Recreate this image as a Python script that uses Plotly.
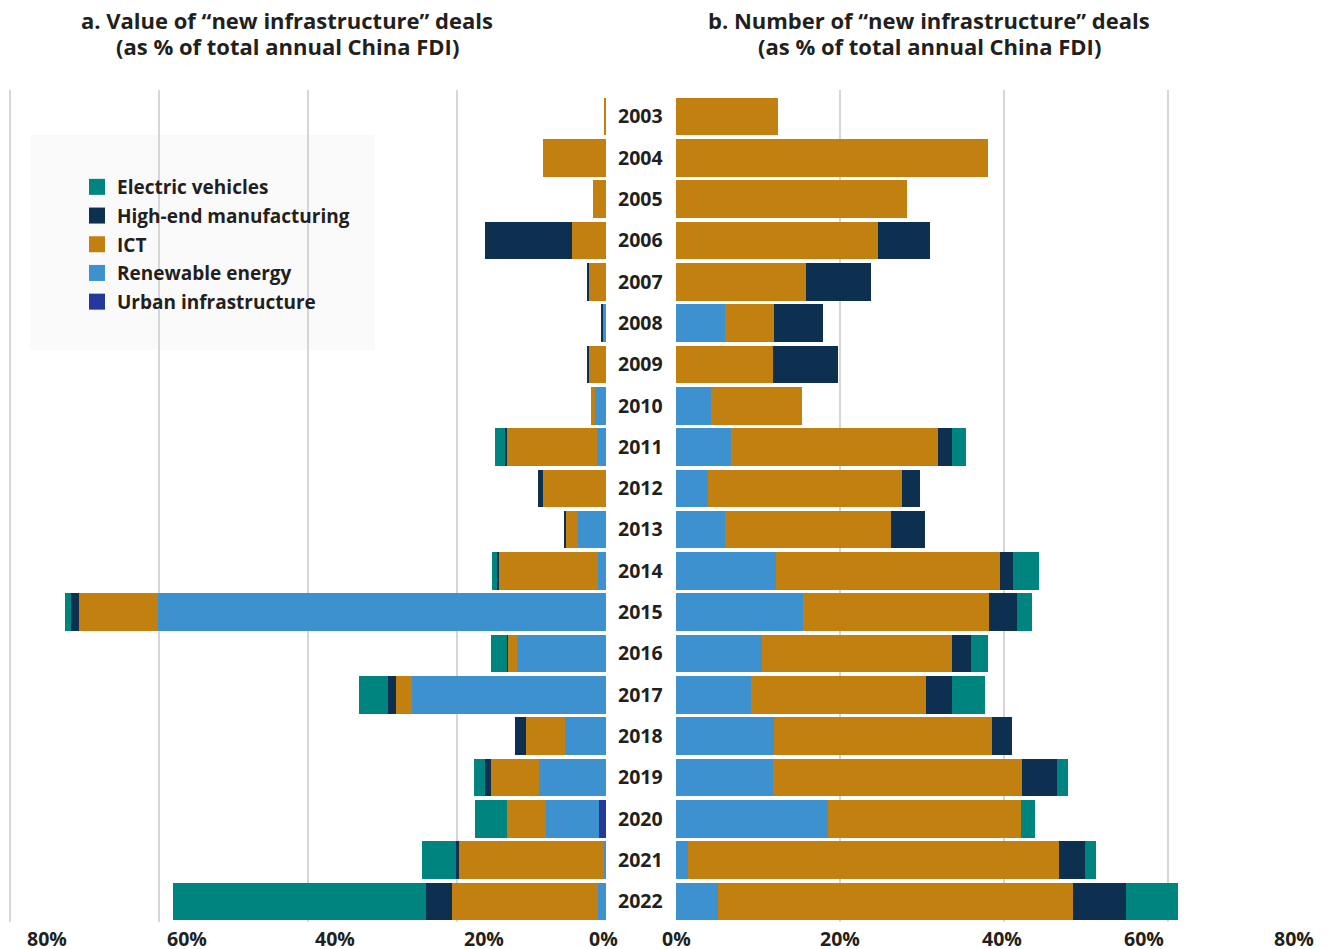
import plotly.graph_objects as go

W, H = 1335, 949
OFF = 8  # page body margin around the plot div

YEARS = [str(y) for y in range(2003, 2023)]
CATEGORIES = ["Urban infrastructure", "Renewable energy", "ICT",
              "High-end manufacturing", "Electric vehicles"]
COLORS = {
    "Electric vehicles": "#00847f",
    "High-end manufacturing": "#0d3050",
    "ICT": "#c18010",
    "Renewable energy": "#3d91cf",
    "Urban infrastructure": "#24399a",
}

# a. value of deals, % of total annual China FDI
VALUE_URBAN = [0, 0, 0, 0, 0, 0, 0, 0, 0, 0, 0, 0, 0, 0, 0, 0, 0, 0.9, 0, 0]
VALUE_RENEW = [0, 0, 0, 0, 0, 0.5, 0, 1.5, 1.2, 0, 3.8, 1.1, 60.1, 11.9,
               26.1, 5.5, 9.0, 7.1, 0.3, 1.1]
VALUE_ICT = [0.3, 8.5, 1.7, 4.5, 2.3, 0, 2.3, 0.5, 12.2, 8.4, 1.7, 13.3, 10.6,
             1.3, 2.1, 5.2, 6.4, 5.3, 19.4, 19.6]
VALUE_HIGHEND = [0, 0, 0, 11.8, 0.3, 0.15, 0.15, 0, 0.15, 0.7, 0.15, 0.27,
                 1.2, 0.15, 1.1, 1.5, 0.8, 0, 0.5, 3.5]
VALUE_EV = [0, 0, 0, 0, 0, 0, 0, 0, 1.3, 0, 0, 0.67, 0.7, 2.1, 3.9, 0, 1.5,
            4.3, 4.5, 34.0]

# b. number of deals, % of total annual China FDI
COUNT_URBAN = [0] * 20
COUNT_RENEW = [0, 0, 0, 0, 0, 6.0, 0, 4.3, 6.7, 3.9, 6.0, 12.2, 15.5, 10.5,
               9.1, 12.0, 11.8, 18.5, 1.5, 5.1]
COUNT_ICT = [12.4, 38.0, 28.2, 24.6, 15.8, 5.9, 11.8, 11.1, 25.2, 23.7, 20.2,
             27.3, 22.6, 23.2, 21.4, 26.5, 30.4, 23.6, 45.2, 43.3]
COUNT_HIGHEND = [0, 0, 0, 6.3, 8.0, 6.0, 8.0, 0, 1.7, 2.1, 4.1, 1.6, 3.5, 2.2,
                 3.1, 2.4, 4.2, 0, 3.1, 6.5]
COUNT_EV = [0, 0, 0, 0, 0, 0, 0, 0, 1.7, 0, 0, 3.1, 1.8, 2.1, 4.1, 0, 1.4,
            1.7, 1.4, 6.3]

TICKS = [0, 20, 40, 60, 80]
TICK_TEXT = ["0%", "20%", "40%", "60%", "80%"]

VALUE = dict(zip(CATEGORIES, [VALUE_URBAN, VALUE_RENEW, VALUE_ICT,
                              VALUE_HIGHEND, VALUE_EV]))
COUNT = dict(zip(CATEGORIES, [COUNT_URBAN, COUNT_RENEW, COUNT_ICT,
                              COUNT_HIGHEND, COUNT_EV]))

TEXT = "#231f20"
FONT = "Open Sans"
GRID = "#d6d6d6"


def px(x):
    # page pixel -> paper x
    return (x - OFF) / W


def py(y):
    # page pixel -> paper y
    return 1 - (y - OFF) / H


fig = go.Figure()
for cat in CATEGORIES:
    fig.add_trace(go.Bar(
        y=YEARS, x=VALUE[cat], orientation="h", name=cat,
        legendgroup=cat, showlegend=False,
        marker=dict(color=COLORS[cat], line=dict(width=0)),
        xaxis="x", yaxis="y"))
for cat in CATEGORIES:
    if not any(COUNT[cat]):
        continue
    fig.add_trace(go.Bar(
        y=YEARS, x=COUNT[cat], orientation="h", name=cat,
        legendgroup=cat, showlegend=False,
        marker=dict(color=COLORS[cat], line=dict(width=0)),
        xaxis="x2", yaxis="y2"))
# legend entries with bigger square swatches, alphabetical like the original
for rank, cat in enumerate(reversed(CATEGORIES)):
    fig.add_trace(go.Scatter(
        x=[None], y=[None], mode="markers", name=cat, legendgroup=cat,
        legendrank=rank + 1,
        marker=dict(symbol="square", size=17, color=COLORS[cat]),
        xaxis="x", yaxis="y"))

# gridlines start a little above the first bar
y_dom = [py(922), py(90)]
y_range = [len(YEARS) - 0.5, -0.645]
axis_common = dict(tickvals=TICKS, showticklabels=False,
                   showgrid=True, gridcolor=GRID, gridwidth=2,
                   zeroline=False, showline=False, fixedrange=True)

fig.update_layout(
    width=W, height=H,
    margin=dict(l=0, r=0, t=0, b=0),
    paper_bgcolor="white", plot_bgcolor="white",
    barmode="stack", bargap=0.09,
    font=dict(family=FONT, color=TEXT),
    xaxis=dict(axis_common, domain=[0, px(606)], range=[80.3, 0]),
    xaxis2=dict(axis_common, domain=[px(676), px(1334)], range=[0, 80.2]),
    yaxis=dict(domain=y_dom, anchor="x", side="right", range=y_range,
               type="category", showgrid=False, ticks="",
               ticklabelstandoff=11,
               tickfont=dict(family=FONT, size=19.5, weight="bold", color=TEXT)),
    yaxis2=dict(domain=y_dom, anchor="x2", range=y_range,
                type="category", showgrid=False, showticklabels=False),
    legend=dict(x=px(77), y=py(168), xanchor="left", yanchor="top",
                traceorder="grouped", bgcolor="rgba(0,0,0,0)",
                tracegroupgap=1, itemsizing="trace",
                font=dict(family=FONT, size=19, weight="bold", color=TEXT)),
    showlegend=True,
)

# legend background panel
fig.add_shape(type="rect", xref="paper", yref="paper",
              x0=px(30), x1=px(375), y0=py(350), y1=py(135),
              fillcolor="#fafafa", line=dict(width=0), layer="below")

# panel titles, one annotation per line
title_font = dict(family=FONT, size=22, weight="bold", color=TEXT)
titles = [
    (287, "a. Value of “new infrastructure” deals",
     "(as % of total annual China FDI)"),
    (929, "b. Number of “new infrastructure” deals",
     "(as % of total annual China FDI)"),
]
for cx, line1, line2 in titles:
    for ty, txt in ((20, line1), (46, line2)):
        fig.add_annotation(text=txt, xref="paper", yref="paper",
                           x=px(cx), y=py(ty), xanchor="center",
                           yanchor="middle", showarrow=False, borderpad=0,
                           font=title_font)

# x tick labels (placed as in the original, slightly off the gridlines)
tick_font = dict(family=FONT, size=19.5, weight="bold", color=TEXT)
left_shift = [-3, 27, 27, 28, 37]
right_shift = [0, 0, -2, -24, -38]
for v, t, s in zip(TICKS, TICK_TEXT, left_shift):
    fig.add_annotation(text=t, xref="x", yref="paper", x=v, y=py(938),
                       xshift=s, xanchor="center", yanchor="middle",
                       showarrow=False, borderpad=0, font=tick_font)
for v, t, s in zip(TICKS, TICK_TEXT, right_shift):
    fig.add_annotation(text=t, xref="x2", yref="paper", x=v, y=py(938),
                       xshift=s, xanchor="center", yanchor="middle",
                       showarrow=False, borderpad=0, font=tick_font)

fig.write_html("out.html")
